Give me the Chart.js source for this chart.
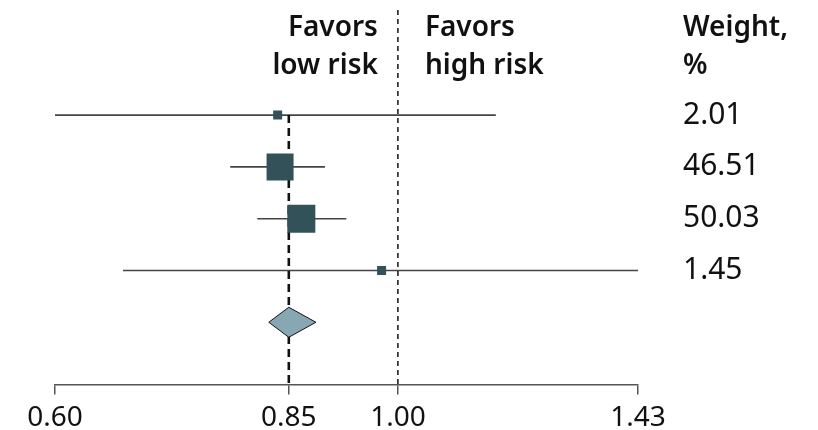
<!doctype html>
<html>

<head>
	<title>Forest Plot</title>
	<script src="https://cdn.jsdelivr.net/npm/chart.js@4/dist/chart.umd.min.js"></script>
	<style>
		body {
			margin: 0;
			background: #fff;
		}
	</style>
</head>

<body>
	<canvas id="chart-area" width="818" height="430"></canvas>
	<script>
		// rows are numbered from the top; row 5 is the pooled estimate
		const rows = [1, 2, 3, 4];
		const estimates = [0.836, 0.839, 0.866, 0.976];
		const lowerCI = [0.60, 0.779, 0.811, 0.664];
		const upperCI = [1.157, 0.897, 0.926, 1.43];
		const weights = [2.01, 46.51, 50.03, 1.45];
		const pooledRow = 5;
		const pooled = [0.825, 0.85, 0.885]; // lower, estimate, upper
		const tickValues = [0.60, 0.85, 1.00, 1.43];

		const yMin = -1.03;
		const yMax = 6.2;
		const squareColor = '#335159';

		Chart.defaults.font.family = "'Noto Sans', 'DejaVu Sans', sans-serif";
		Chart.defaults.color = '#111';

		const ciSets = rows.map((r, i) => ({
			data: [{x: lowerCI[i], y: r}, {x: upperCI[i], y: r}],
			showLine: true,
			borderColor: '#444',
			borderWidth: 1.6,
			pointRadius: 0,
			order: 4
		}));

		// square side grows with weight, small studies keep a minimum size
		const sides = weights.map(w => Math.max(9, 28 * Math.sqrt(w / 50.03)));

		const config = {
			type: 'scatter',
			data: {
				datasets: [
					...ciSets,
					{
						data: rows.map((r, i) => ({x: estimates[i], y: r})),
						pointStyle: 'rect',
						pointRadius: sides.map(s => s * Math.SQRT1_2),
						backgroundColor: squareColor,
						borderWidth: 0,
						order: 1
					},
					{
						// pooled estimate line
						data: [{x: pooled[1], y: 1}, {x: pooled[1], y: yMax}],
						showLine: true,
						borderColor: '#111',
						borderWidth: 2.6,
						borderDash: [8, 5],
						pointRadius: 0,
						order: 2
					},
					{
						// line of no effect
						data: [{x: 1, y: yMin}, {x: 1, y: yMax}],
						showLine: true,
						borderColor: '#111',
						borderWidth: 1.5,
						borderDash: [5, 4],
						pointRadius: 0,
						order: 3
					},
					{
						// pooled diamond
						data: [
							{x: pooled[0], y: pooledRow},
							{x: pooled[1], y: pooledRow - 0.29},
							{x: pooled[2], y: pooledRow},
							{x: pooled[1], y: pooledRow + 0.29},
							{x: pooled[0], y: pooledRow}
						],
						showLine: true,
						fill: 'shape',
						tension: 0,
						backgroundColor: '#87a7b3',
						borderColor: '#111',
						borderWidth: 1,
						pointRadius: 0,
						order: 0
					}
				]
			},
			options: {
				responsive: false,
				animation: false,
				events: [],
				layout: {
					autoPadding: false,
					padding: {left: 55, right: 180, top: 10, bottom: -12}
				},
				plugins: {
					legend: {display: false},
					tooltip: {enabled: false}
				},
				scales: {
					x: {
						type: 'logarithmic',
						min: 0.6,
						max: 1.43,
						afterBuildTicks: (scale) => {
							scale.ticks = tickValues.map(v => ({value: v}));
						},
						ticks: {
							autoSkip: false,
							maxRotation: 0,
							padding: 7,
							font: {size: 28},
							color: '#111',
							callback: (v) => Number(v).toFixed(2)
						},
						grid: {
							drawOnChartArea: false,
							tickLength: 10,
							color: '#555',
							lineWidth: 1.5
						},
						border: {
							display: true,
							color: '#555',
							width: 1.5
						}
					},
					y: {
						type: 'linear',
						reverse: true,
						min: yMin,
						max: yMax,
						display: false
					}
				}
			},
			plugins: [{
				id: 'forestText',
				afterDraw(chart) {
					const ctx = chart.ctx;
					const xs = chart.scales.x;
					const ys = chart.scales.y;
					const nullX = xs.getPixelForValue(1);
					const colX = chart.chartArea.right + 45;
					ctx.save();
					ctx.fillStyle = '#111';
					ctx.textBaseline = 'alphabetic';
					ctx.font = "600 28px 'Noto Sans', sans-serif";
					ctx.textAlign = 'right';
					ctx.fillText('Favors', nullX - 20, 36);
					ctx.fillText('low risk', nullX - 20, 74);
					ctx.textAlign = 'left';
					ctx.fillText('Favors', nullX + 27, 36);
					ctx.fillText('high risk', nullX + 27, 74);
					ctx.fillText('Weight,', colX, 36);
					ctx.fillText('%', colX, 74);
					ctx.font = "30px 'Noto Sans', sans-serif";
					ctx.textBaseline = 'middle';
					rows.forEach((r, i) => {
						ctx.fillText(weights[i].toFixed(2), colX, ys.getPixelForValue(r));
					});
					ctx.restore();
				}
			}]
		};

		window.onload = function() {
			const ctx = document.getElementById('chart-area');
			window.myForest = new Chart(ctx, config);
		};
	</script>
</body>

</html>
